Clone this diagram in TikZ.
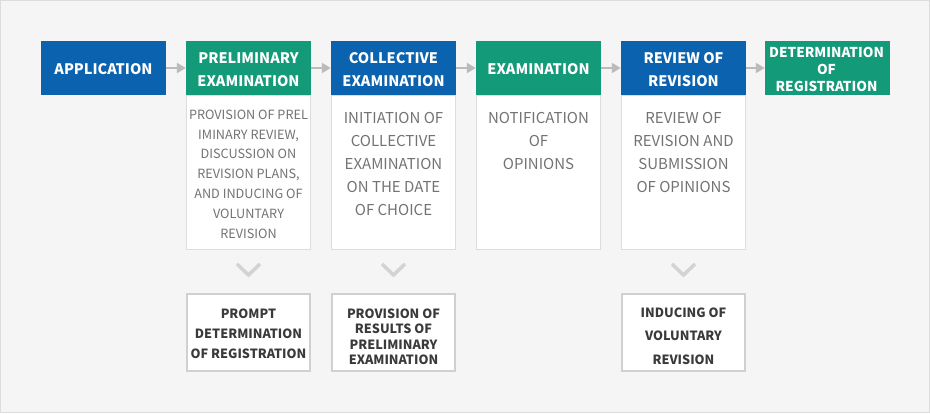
\documentclass[tikz,border=0pt]{standalone}
\usepackage{fontspec}
\setmainfont{Noto Sans CJK KR}
\usetikzlibrary{arrows.meta,calc}
\definecolor{bgc}{HTML}{F5F5F5}
\definecolor{framec}{HTML}{DCDCDC}
\definecolor{hblue}{HTML}{0B63B0}
\definecolor{hgreen}{HTML}{139A78}
\definecolor{boxline}{HTML}{DDDDDD}
\definecolor{resline}{HTML}{D0D0D0}
\definecolor{bodytext}{HTML}{737373}
\definecolor{restext}{HTML}{3A3A3A}
\definecolor{arrowc}{HTML}{BBBBBB}
\definecolor{chevc}{HTML}{D3D3D3}
\tikzset{
  hdr/.style={minimum width=125pt, minimum height=54pt, inner sep=0pt},
  hblueb/.style={hdr, fill=hblue},
  hgreenb/.style={hdr, fill=hgreen},
  hdrtxt/.style={inner sep=0pt, text=white, align=center, font=\fontsize{14.5}{23}\selectfont\bfseries},
  bodybox/.style={draw=boxline, fill=white, line width=1pt, minimum width=124pt, minimum height=154pt, inner sep=0pt},
  bodytxt/.style={align=center, inner sep=0pt, text=bodytext},
  resbox/.style={draw=resline, fill=white, line width=2pt, minimum width=123pt, minimum height=77pt, inner sep=0pt},
  restxt/.style={align=center, inner sep=0pt, text=restext},
  flow/.style={draw=arrowc, line width=2.5pt, -{Triangle[length=9pt,width=10pt]}},
  chev/.style={draw=chevc, line width=3.5pt, line join=miter}
}
\begin{document}
\begin{tikzpicture}[x=1pt,y=-1pt]
\useasboundingbox (0,0) rectangle (930,413);
\draw[fill=bgc, draw=framec, line width=1pt] (0.5,0.5) rectangle (929.5,412.5);

% body boxes
\node[bodybox] (b2) at (248.5,172.5) {};
\node[bodybox] (b3) at (393.5,172.5) {};
\node[bodybox] (b4) at (538.5,172.5) {};
\node[bodybox] (b5) at (683.5,172.5) {};

% headers
\node[hblueb] (h1) at (103.5,68) {};
\node[hgreenb] (h2) at (248.5,68) {};
\node[hblueb] (h3) at (393.5,68) {};
\node[hgreenb] (h4) at (538.5,68) {};
\node[hblueb] (h5) at (683.5,68) {};
\node[hgreenb] (h6) at (827.5,68) {};
\node[hdrtxt] (l1) at (103.5,69.2) {APPLICATION};
\node[hdrtxt] (l2) at (248.5,69.7) {PRELIMINARY\\EXAMINATION};
\node[hdrtxt] (l3) at (393.5,69.7) {COLLECTIVE\\EXAMINATION};
\node[hdrtxt] (l4) at (538.5,69.2) {EXAMINATION};
\node[hdrtxt] (l5) at (683.5,69.5) {REVIEW OF\\REVISION};
\node[hdrtxt, font=\fontsize{13.6}{17.3}\selectfont\bfseries] (l6) at (826.5,69.5) {DETERMINATION\\OF\\REGISTRATION};

% flow arrows
\draw[flow] (h1.east) -- (h2.west);
\draw[flow] (h2.east) -- (h3.west);
\draw[flow] (h3.east) -- (h4.west);
\draw[flow] (h4.east) -- (h5.west);
\draw[flow] (h5.east) -- (h6.west);

% body texts
\node[bodytxt, font=\fontsize{12.7}{19.8}\selectfont] (t2) at (248.5,174)
  {PROVISION OF PREL\\IMINARY REVIEW,\\DISCUSSION ON\\REVISION PLANS,\\AND INDUCING OF\\VOLUNTARY\\REVISION};
\node[bodytxt, font=\fontsize{15}{23}\selectfont] (t3) at (393.5,164)
  {INITIATION OF\\COLLECTIVE\\EXAMINATION\\ON THE DATE\\OF CHOICE};
\node[bodytxt, font=\fontsize{15}{23}\selectfont] (t4) at (538.5,141)
  {NOTIFICATION\\OF\\OPINIONS};
\node[bodytxt, font=\fontsize{15}{23}\selectfont] (t5) at (683.5,152.2)
  {REVIEW OF\\REVISION AND\\SUBMISSION\\OF OPINIONS};

% result boxes
\node[resbox] (r2) at (248.5,332.5) {};
\node[resbox] (r3) at (393.5,332.5) {};
\node[resbox] (r5) at (683.5,332.5) {};
\node[restxt, font=\fontsize{12.7}{19.8}\selectfont\bfseries] (s2) at (248.5,334)
  {PROMPT\\DETERMINATION\\OF REGISTRATION};
\node[restxt, font=\fontsize{12.7}{15.5}\selectfont\bfseries] (s3) at (393.5,337)
  {PROVISION OF\\RESULTS OF\\PRELIMINARY\\EXAMINATION};
\node[restxt, font=\fontsize{12.7}{23.3}\selectfont\bfseries] (s5) at (683.5,336)
  {INDUCING OF\\VOLUNTARY\\REVISION};

% chevrons
\foreach \b in {b2,b3,b5}{
  \draw[chev] ($(\b.south)+(-11.5,14)$) -- ++(11.5,11) -- ++(11.5,-11);
}
\end{tikzpicture}
\end{document}
